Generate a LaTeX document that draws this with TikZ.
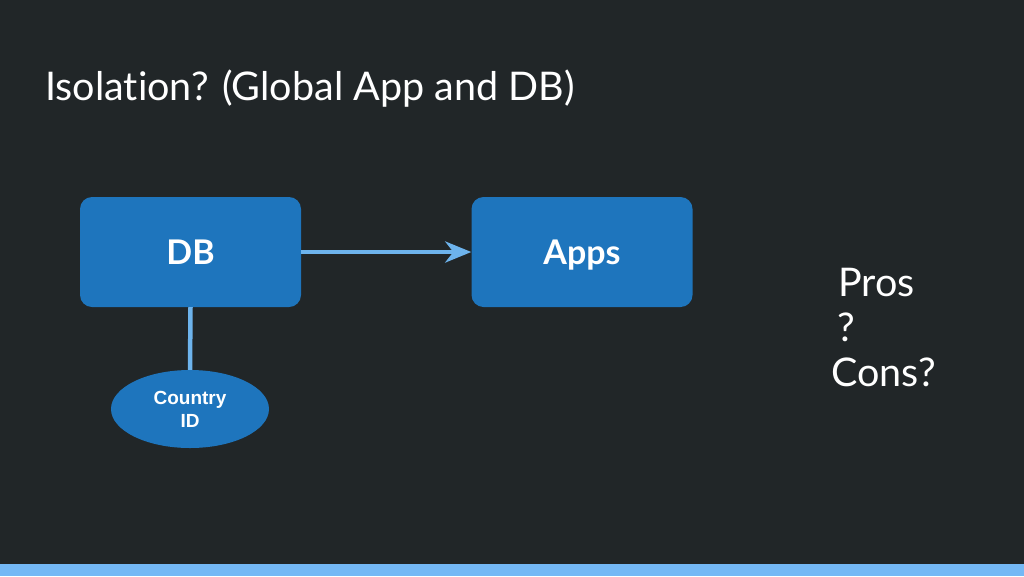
\documentclass[tikz,border=0pt]{standalone}
\usepackage{fontspec}
\setmainfont{Lato}[Ligatures={NoCommon}]
\newfontfamily\arialfont{Liberation Sans}
\usetikzlibrary{shapes.geometric,arrows.meta}
\definecolor{bg}{HTML}{212628}
\definecolor{boxblue}{HTML}{1E75BD}
\definecolor{linkblue}{HTML}{6DB3EC}
\definecolor{barblue}{HTML}{74B8F5}
\begin{document}
\begin{tikzpicture}[x=1pt,y=-1pt,
  block/.style={draw=none,fill=boxblue,rounded corners=12pt,minimum width=221pt,minimum height=110pt,text=white,text height=24pt,text depth=0pt,font=\fontsize{34}{36}\selectfont\bfseries},
  tag/.style={ellipse,draw=none,fill=boxblue,minimum width=158pt,minimum height=78pt,inner sep=0pt,text=white,align=center,font=\arialfont\fontsize{19}{23}\selectfont\bfseries},
  link/.style={draw=linkblue,line width=4.5pt},
  plain/.style={text=white,anchor=base west,inner sep=0pt,font=\fontsize{39.5}{42}\selectfont}]
\fill[bg] (0,0) rectangle (1024,576);
\useasboundingbox (0,0) rectangle (1024,576);
\fill[barblue] (0,564) rectangle (1024,576);
\node[plain] (title) at (45,100) {Isolation? (Global App and DB)};
\node[block] (db) at (190.5,252) {DB};
\node[block] (apps) at (582,252) {Apps};
\node[tag] (cid) at (190,409) {Country\\ID};
\draw[link,-{Stealth[length=26pt,width=21pt,inset=8pt]}] (db.east) -- (apps.west);
\draw[link] (db.south) -- (cid.north);
\node[plain] (pros) at (838,296) {Pros};
\node[plain] (q) at (837,341) {?};
\node[plain] (cons) at (831,386) {Cons?};
\end{tikzpicture}
\end{document}
